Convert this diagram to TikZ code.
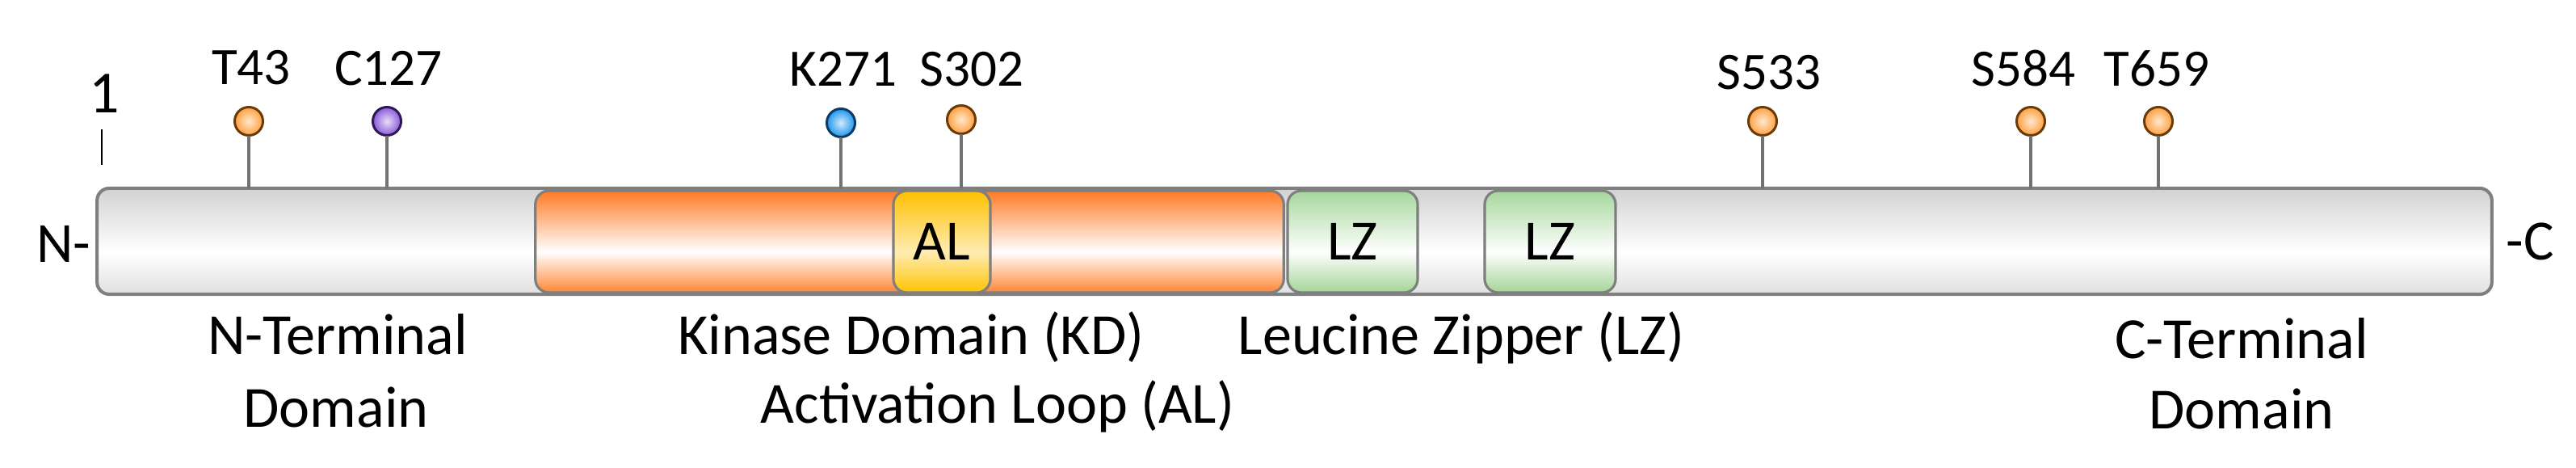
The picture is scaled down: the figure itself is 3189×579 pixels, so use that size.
\documentclass[tikz,border=0pt]{standalone}
\usepackage{fontspec}
\setmainfont{Carlito}
\definecolor{bartop}{HTML}{D2D2D2}
\definecolor{barbot}{HTML}{E0E0E0}
\definecolor{kdtop}{HTML}{FF7A25}
\definecolor{kdbot}{HTML}{FF8535}
\definecolor{altop}{HTML}{FFC000}
\definecolor{albot}{HTML}{FFC300}
\definecolor{lztop}{HTML}{A6D79C}
\definecolor{lzbot}{HTML}{A3D497}
\definecolor{edge}{HTML}{7F7F7F}
\definecolor{ballor}{HTML}{FFA040}
\definecolor{ballorb}{HTML}{6A3A08}
\definecolor{ballpu}{HTML}{8A5AD8}
\definecolor{ballpub}{HTML}{2E1856}
\definecolor{ballbl}{HTML}{1E96EC}
\definecolor{ballblb}{HTML}{0E3A66}
\pgfdeclareverticalshading{barsh}{100bp}{color(0bp)=(barbot); color(25bp)=(barbot); color(45bp)=(white); color(75bp)=(bartop); color(100bp)=(bartop)}
\pgfdeclareverticalshading{kdsh}{100bp}{color(0bp)=(kdbot); color(25bp)=(kdbot); color(45bp)=(white); color(75bp)=(kdtop); color(100bp)=(kdtop)}
\pgfdeclareverticalshading{alsh}{100bp}{color(0bp)=(albot); color(25bp)=(albot); color(45bp)=(white!70!altop); color(75bp)=(altop); color(100bp)=(altop)}
\pgfdeclareverticalshading{lzsh}{100bp}{color(0bp)=(lzbot); color(25bp)=(lzbot); color(45bp)=(white); color(75bp)=(lztop); color(100bp)=(lztop)}
\begin{document}
\begin{tikzpicture}[x=0.01cm,y=-0.01cm,
  barbox/.style={draw=edge, line width=1.15pt, rounded corners=0.15cm, shading=barsh, inner sep=0pt, outer sep=0pt, minimum height=1.31cm},
  dombox/.style={draw=edge, line width=0.9pt, rounded corners=0.17cm, inner sep=0pt, outer sep=0pt, minimum height=1.26cm, font=\fontsize{20}{22}\selectfont},
  ballnode/.style={circle, inner sep=0pt, outer sep=0pt, minimum size=0.35cm, line width=0.85pt},
  orball/.style={ballnode, draw=ballorb, inner color=white!75!ballor, outer color=ballor},
  puball/.style={ballnode, draw=ballpub, inner color=white!80!ballpu, outer color=ballpu},
  blball/.style={ballnode, draw=ballblb, inner color=white!80!ballbl, outer color=ballbl},
  stick/.style={draw=edge!90!black, line width=0.9pt},
  site/.style={anchor=base, inner sep=0pt, font=\fontsize{18.5}{20}\selectfont},
  dlabel/.style={anchor=base, inner sep=0pt, font=\fontsize{20.5}{24}\selectfont},
  term/.style={inner sep=0pt, font=\fontsize{20}{22}\selectfont}]
\useasboundingbox (0,0) rectangle (3189,579);
% backbone
\node[barbox, minimum width=29.63cm] (bar) at (1602.5,298.5) {};
% domains
\node[dombox, shading=kdsh, minimum width=9.26cm] (kd) at (1126,299) {};
\node[dombox, shading=alsh, minimum width=1.2cm] (al) at (1166,299) {AL};
\node[dombox, shading=lzsh, minimum width=1.61cm] (lz1) at (1674.5,299) {LZ};
\node[dombox, shading=lzsh, minimum width=1.62cm] (lz2) at (1919,299) {LZ};
% sites
\node[orball] (b43) at (308,150) {};
\node[puball] (b127) at (479,150) {};
\node[blball] (b271) at (1041,152) {};
\node[orball] (b302) at (1190,148) {};
\node[orball] (b533) at (2182,150) {};
\node[orball] (b584) at (2514,150) {};
\node[orball] (b659) at (2672,150) {};
\foreach \b in {b43,b127,b271,b302,b533,b584,b659}
  \draw[stick] (\b.south) -- (\b.south |- bar.north);
\node[site] (l43) at (311,105) {T43};
\node[site] (l127) at (481,106) {C127};
\node[site] (l271) at (1044,107) {K271};
\node[site] (l302) at (1203,107) {S302};
\node[site] (l533) at (2190,111) {S533};
\node[site] (l584) at (2505,107) {S584};
\node[site] (l659) at (2670,107) {T659};
% position 1 marker
\node[anchor=base, inner sep=0pt, font=\fontsize{21}{23}\selectfont] (one) at (129,140) {1};
\coordinate (tickA) at (126,160);
\coordinate (tickB) at (126,204);
\draw[line width=0.6pt] (tickA) -- (tickB);
% termini
\node[term, anchor=base east] (nterm) at (113,325) {N-};
\node[term, anchor=base west] (cterm) at (3102,321) {-C};
% domain labels
\node[dlabel] (ntd1) at (418,439) {N-Terminal};
\node[dlabel] (ntd2) at (416,528) {Domain};
\node[dlabel] (kdl) at (1128,439) {Kinase Domain (KD)};
\node[dlabel] (all) at (1235,524) {Activation Loop (AL)};
\node[dlabel] (lzl) at (1809,439) {Leucine Zipper (LZ)};
\node[dlabel] (ctd1) at (2775,443) {C-Terminal};
\node[dlabel] (ctd2) at (2775,531) {Domain};
\end{tikzpicture}
\end{document}
